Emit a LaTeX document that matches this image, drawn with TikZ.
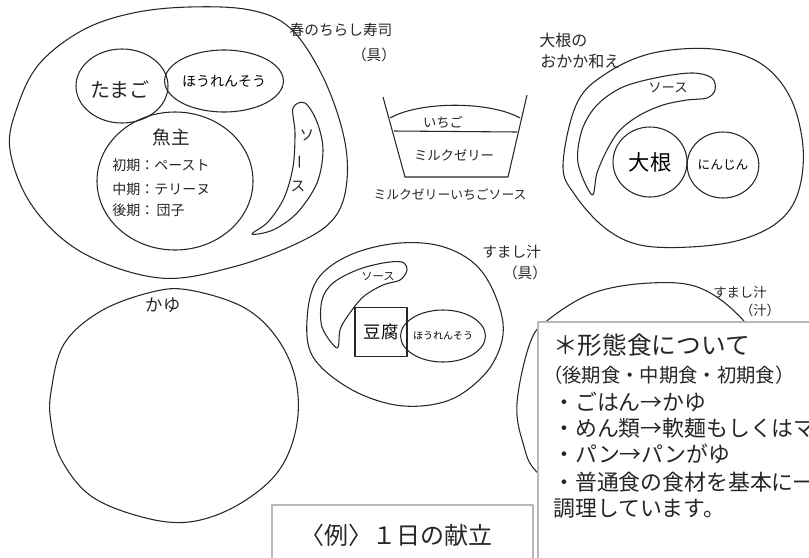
\documentclass[tikz,border=0pt]{standalone}
\usepackage{fontspec}
\setmainfont{Noto Sans CJK JP}
\usetikzlibrary{shapes.geometric}
\newcommand\fsz[1]{\fontsize{#1}{#1}\selectfont}
\begin{document}
\begin{tikzpicture}[x=0.75pt,y=-0.75pt,line join=round,
  hand/.style={draw=black!85, line width=0.8pt},
  hnote/.style={inner sep=0pt, text=black!85},
  boxline/.style={draw=black!28, line width=0.9pt},
  note/.style={inner sep=0pt, anchor=west, text=black!85}]
\useasboundingbox (0,0) rectangle (809,557);

% ---------- plate 1: chirashi sushi ----------
\draw[hand] plot[smooth cycle, tension=0.6] coordinates {(10,150) (18,105) (40,63) (83,30) (133,13) (190,7) (250,10) (290,28) (322,75) (343,133) (347,180) (335,217) (300,242) (233,267) (160,278) (83,253) (33,207)};
\node[hand, ellipse, minimum width=69pt, minimum height=55.5pt, inner sep=0pt] (tamago) at (122,86) {};
\node[hnote, font=\fsz{15}] (tamagoT) at (120,90) {たまご};
\node[hand, ellipse, minimum width=84pt, minimum height=46.5pt, inner sep=0pt, font=\fsz{10.5}] (hou1) at (224,81) {ほうれんそう};
\node[hand, ellipse, minimum width=117pt, minimum height=103.5pt, inner sep=0pt] (fish) at (175,181) {};
\node[hnote, font=\fsz{14}] (fishT) at (171,137) {魚主};
\node[hnote, anchor=west, font=\fsz{10.5}] (f1) at (112,165) {初期：ペースト};
\node[hnote, anchor=west, font=\fsz{10.5}] (f2) at (112,189) {中期：テリーヌ};
\node[hnote, anchor=west, font=\fsz{10.5}] (f3) at (112,210) {後期：\,団子};
\draw[hand] plot[smooth cycle, tension=0.55] coordinates {(293,108) (305,103) (317,122) (323,150) (317,183) (297,213) (273,230) (252,234) (268,222) (284,198) (293,167) (295,133)};
\node[hnote, font=\fsz{11}] (s1a) at (307,135) {ソ};
\node[hnote, font=\fsz{11}, rotate=90] (s1b) at (302,162) {ー};
\node[hnote, font=\fsz{11}] (s1c) at (298,187) {ス};
\node[hnote, font=\fsz{11}] (t1) at (341,30) {春のちらし寿司};
\node[hnote, font=\fsz{11}] (t1b) at (374,55) {（具）};

% ---------- cup: milk jelly ----------
\coordinate (cTL) at (383,97);
\coordinate (cBL) at (405,177);
\coordinate (cBR) at (508,177);
\coordinate (cTR) at (527,95);
\draw[hand] (cTL) -- (cBL) -- (cBR) -- (cTR);
\draw[hand] (390,118) .. controls (420,101) and (490,101) .. (520,118);
\draw[hand] (394,131) -- (517,132);
\node[hnote, font=\fsz{10}] (ichigo) at (443,122) {いちご};
\node[hnote, font=\fsz{10}] (milk) at (454,155) {ミルクゼリー};
\node[hnote, font=\fsz{9.6}] (cupT) at (450,195) {ミルクゼリーいちごソース};

% ---------- plate 3: daikon okaka-ae ----------
\draw[hand] plot[smooth cycle, tension=0.6] coordinates {(563,165) (577,103) (607,73) (653,53) (713,49) (760,63) (790,97) (803,147) (798,193) (778,222) (740,240) (690,247) (640,245) (605,228) (575,195)};
\draw[hand] plot[smooth cycle, tension=0.55] coordinates {(592,195) (578,163) (582,130) (597,105) (623,87) (660,77) (693,73) (712,78) (715,90) (707,98) (687,100) (663,105) (640,115) (620,130) (607,150) (597,173)};
\node[hnote, font=\fsz{10}] (s3) at (668,88) {ソース};
\node[hand, ellipse, minimum width=55.5pt, minimum height=52.5pt, inner sep=0pt, font=\fsz{16}] (daikon) at (650,162) {大根};
\node[hand, ellipse, minimum width=52.5pt, minimum height=49.5pt, inner sep=0pt, font=\fsz{9.5}] (ninjin) at (723,165) {にんじん};
\node[hnote, anchor=west, font=\fsz{12}] (t3a) at (539,40) {大根の};
\node[hnote, anchor=west, font=\fsz{12}] (t3b) at (540,61) {おかか和え};

% ---------- plate 4: sumashi-jiru (gu) ----------
\draw[hand] plot[smooth cycle, tension=0.6] coordinates {(307,320) (317,280) (350,255) (400,243) (447,248) (483,273) (503,323) (493,363) (463,393) (430,405) (390,404) (347,387) (313,357)};
\draw[hand] plot[smooth cycle, tension=0.55] coordinates {(337,348) (322,327) (322,300) (333,283) (357,270) (383,263) (402,262) (407,270) (400,280) (383,285) (363,297) (347,317) (340,330)};
\node[hnote, font=\fsz{8.5}] (s4) at (378,277) {ソース};
\node[hand, rectangle, minimum width=39pt, minimum height=36.75pt, inner sep=0pt, font=\fsz{13}] (tofu) at (381,332) {豆腐};
\node[hand, ellipse, minimum width=52.5pt, minimum height=39pt, inner sep=0pt, font=\fsz{7.5}] (hou4) at (443,336) {ほうれんそう};
\node[hnote, anchor=west, font=\fsz{11}] (t4a) at (482,252) {すまし汁};
\node[hnote, font=\fsz{11}] (t4b) at (525,273) {（具）};

% ---------- plate 2: kayu ----------
\draw[hand] plot[smooth cycle, tension=0.6] coordinates {(51,392) (64,344) (101,311) (152,292) (189,290) (243,307) (277,338) (296,381) (296,429) (277,473) (236,506) (189,522) (142,517) (91,496) (61,459) (51,422)};
\node[hnote, font=\fsz{13}] (kayu) at (163,305) {かゆ};

% ---------- plate 5: sumashi-jiru (shiru) ----------
\draw[hand] plot[smooth cycle, tension=0.6] coordinates {(517,403) (530,343) (548,320) (593,293) (650,283) (700,288) (743,320) (775,370) (783,410) (770,460) (730,500) (660,520) (590,505) (538,473) (523,443)};
\node[hnote, anchor=west, font=\fsz{10}] (t5a) at (713,292) {すまし汁};
\node[hnote, font=\fsz{10}] (t5b) at (760,310) {（汁）};

% ---------- text boxes ----------
\fill[white] (538,322) rectangle (820,570);
\draw[boxline] (538,570) -- (538,322) -- (820,322);
\fill[white] (272,505) rectangle (533,570);
\draw[boxline] (272,570) -- (272,505) -- (533,505) -- (533,570);

\node[note, font=\fsz{18.5}] (n0) at (553,345) {＊形態食について};
\node[note, font=\fsz{14.5}] (n1) at (543,375) {（後期食・中期食・初期食）};
\node[note, font=\fsz{16.4}] (n2) at (553,402) {・ごはん→かゆ};
\node[note, font=\fsz{16.4}] (n3) at (553,428) {・めん類→軟麺もしくはマ};
\node[note, font=\fsz{16.4}] (n4) at (553,454) {・パン→パンがゆ};
\node[note, font=\fsz{16.4}] (n5) at (553,482) {・普通食の食材を基本に一};
\node[note, font=\fsz{16.4}] (n6) at (553,509) {調理しています。};

\node[note, font=\fsz{18}] (ex) at (300,535) {〈例〉１日の献立};
\end{tikzpicture}
\end{document}
